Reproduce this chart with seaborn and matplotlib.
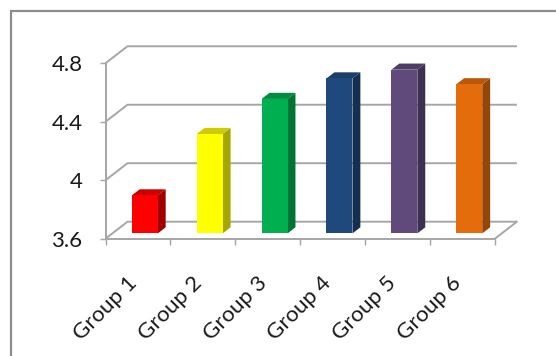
import numpy as np
import pandas as pd
import matplotlib
matplotlib.use("Agg")
import matplotlib.pyplot as plt
from matplotlib.patches import Polygon, Rectangle
import seaborn as sns

# ---- data ----
groups = ["Group 1", "Group 2", "Group 3", "Group 4", "Group 5", "Group 6"]
values = [3.86, 4.28, 4.52, 4.66, 4.72, 4.62]
front_colors = ["#FF0000", "#FFFF00", "#00B050", "#1F497D", "#604A7B", "#E46C0A"]
side_colors = ["#A00000", "#A6A600", "#007434", "#142F52", "#3E3050", "#954607"]
top_colors = ["#CC0000", "#CCCC00", "#008C3F", "#1A3E69", "#4E3D66", "#B85808"]
yticks = [3.6, 4.0, 4.4, 4.8]
ytick_labels = ["3.6", "4", "4.4", "4.8"]

sns.set_theme(style="white")
plt.rcParams["font.family"] = ["Lato", "DejaVu Sans"]

W, H = 556, 356
fig = plt.figure(figsize=(W / 100, H / 100), dpi=100)
ax = fig.add_axes([105.5 / W, (H - 238.7) / H, 412.5 / W, 192.2 / H])

df = pd.DataFrame({"group": groups, "value": values})
sns.barplot(data=df, x="group", y="value", hue="group", palette=front_colors,
            legend=False, width=0.40, ax=ax, saturation=1, edgecolor="none")

ymin = yticks[0]
ax.set_xlim(-0.5, 5.856)
ax.set_ylim(ymin, 4.9146)

# depth offsets (data units)
ddx, ddy = 0.339, 0.1163
f_front = 0.31   # depth position of bar front face
d_bar = 0.36     # bar depth

gc = "#A6A6A6"
glw = 1.4
xl, xr = -0.5, 5.5
# gridlines / walls
for v in yticks:
    ax.plot([xl, xl + ddx, xr + ddx], [v, v + ddy, v + ddy], color=gc, lw=glw,
            clip_on=False, zorder=0.5, solid_capstyle="butt")
# floor right edge
ax.plot([xr, xr + ddx], [ymin, ymin + ddy], color=gc, lw=glw, clip_on=False, zorder=0.5)

# 3D bars from seaborn patches
bars = [p for p in ax.patches if isinstance(p, Rectangle)]
for i, p in enumerate(bars):
    w = p.get_width()
    x0 = p.get_x() + f_front * ddx
    base = ymin + f_front * ddy
    top = p.get_height() + f_front * ddy
    p.set_x(x0)
    p.set_y(base)
    p.set_height(top - base)
    p.set_zorder(2)
    dx, dy = d_bar * ddx, d_bar * ddy
    side = Polygon([(x0 + w, base), (x0 + w + dx, base + dy), (x0 + w + dx, top + dy), (x0 + w, top)],
                   closed=True, fc=side_colors[i], ec="none", zorder=1.9, clip_on=False)
    topf = Polygon([(x0, top), (x0 + dx, top + dy), (x0 + w + dx, top + dy), (x0 + w, top)],
                   closed=True, fc=top_colors[i], ec="none", zorder=1.9, clip_on=False)
    ax.add_patch(side)
    ax.add_patch(topf)
    p.set_clip_on(False)

# spines
for s in ["top", "right"]:
    ax.spines[s].set_visible(False)
for s in ["left", "bottom"]:
    ax.spines[s].set_color(gc)
    ax.spines[s].set_linewidth(glw)
ax.spines["left"].set_bounds(ymin, yticks[-1])
ax.spines["bottom"].set_bounds(xl, xr)

ax.set_yticks(yticks)
ax.set_yticklabels(ytick_labels)
ax.tick_params(axis="y", length=4.5, width=glw * 0.75, color=gc, labelsize=16,
               labelcolor="#1a1a1a", pad=12, left=True)

ax.set_xticks(np.arange(len(groups)))
ax.set_xticklabels(groups)
ax.set_xticks(np.arange(-0.5, 6.0, 1.0), minor=True)
ax.tick_params(axis="x", which="major", length=0, labelsize=16, labelcolor="#1a1a1a", pad=33)
ax.tick_params(axis="x", which="minor", length=4.5, width=glw * 0.75, color=gc, bottom=True)
for lab in ax.get_xticklabels():
    lab.set_rotation(45)
    lab.set_ha("right")
    lab.set_va("baseline")
    lab.set_rotation_mode("anchor")
ax.set_xlabel("")
ax.set_ylabel("")
ax.grid(False)
ax.patch.set_visible(False)

# outer chart frame
fig.add_artist(Rectangle((11 / W, -0.2), 1.5, (H - 11) / H + 0.2, transform=fig.transFigure,
                         fill=False, ec="#8C8C8C", lw=1.6))

fig.savefig("out.png", dpi=100, facecolor="white")
